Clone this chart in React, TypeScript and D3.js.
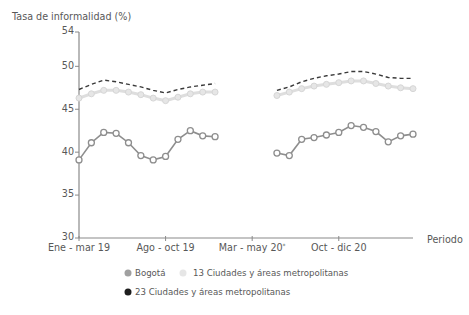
import { line, scaleLinear } from "d3";

const W = 469;
const H = 315;

// rolling quarters, Ene-mar 19 .. Abr-jun 21
const periods = [
  "Ene - mar 19", "Feb - abr 19", "Mar - may 19", "Abr - jun 19", "May - jul 19", "Jun - ago 19",
  "Jul - sep 19", "Ago - oct 19", "Sep - nov 19", "Oct - dic 19", "Nov - ene 20", "Dic - feb 20",
  "Ene - mar 20", "Feb - abr 20", "Mar - may 20*", "Abr - jun 20", "May - jul 20", "Jun - ago 20",
  "Jul - sep 20", "Ago - oct 20", "Sep - nov 20", "Oct - dic 20", "Nov - ene 21", "Dic - feb 21",
  "Ene - mar 21", "Feb - abr 21", "Mar - may 21", "Abr - jun 21",
];
const tickPeriods = ["Ene - mar 19", "Ago - oct 19", "Mar - may 20*", "Oct - dic 20"];
const yTicks = [30, 35, 40, 45, 50, 54];

const bogota = [
  39.1, 41.1, 42.3, 42.2, 41.1, 39.6, 39.1, 39.5, 41.5, 42.5, 41.9, 41.8,
  null, null, null, null,
  39.9, 39.6, 41.5, 41.7, 42.0, 42.3, 43.1, 42.9, 42.4, 41.2, 41.9, 42.1,
];
const ciudades13 = [
  46.3, 46.8, 47.2, 47.2, 47.0, 46.7, 46.3, 46.0, 46.4, 46.8, 47.0, 47.0,
  null, null, null, null,
  46.6, 47.0, 47.4, 47.7, 47.9, 48.1, 48.3, 48.3, 48.0, 47.7, 47.5, 47.4,
];
const ciudades23 = [
  47.3, 47.9, 48.4, 48.2, 47.9, 47.6, 47.2, 46.9, 47.3, 47.6, 47.8, 48.0,
  null, null, null, null,
  47.2, 47.6, 48.2, 48.6, 48.9, 49.1, 49.4, 49.4, 49.1, 48.7, 48.6, 48.6,
];

const FONT = "'DejaVu Sans', 'Open Sans', sans-serif";
const TXT = "#585858";
const AXIS = "#8a8a8a";

type Pt = { i: number; v: number | null };

export default function App() {
  const x = scaleLinear().domain([0, periods.length - 1]).range([79, 413]);
  const y = scaleLinear().domain([30, 54]).range([238, 32]);

  const path = line<Pt>()
    .defined((d) => d.v !== null)
    .x((d) => x(d.i))
    .y((d) => y(d.v as number));

  const pts = (arr: (number | null)[]) => arr.map((v, i) => ({ i, v }));

  return (
    <svg width={W} height={H} style={{ position: "absolute", left: 0, top: 0, background: "#fff" }} fontFamily={FONT}>
      <text x={12} y={17} dy="0.35em" fontSize={9.6} fill={TXT}>Tasa de informalidad (%)</text>

      {/* y axis */}
      <line x1={x(0)} x2={x(0)} y1={y(54)} y2={y(30)} stroke={AXIS} strokeWidth={1.2} />
      {yTicks.map((t) => (
        <g key={t}>
          <line x1={x(0) - 4} x2={x(0)} y1={y(t)} y2={y(t)} stroke={AXIS} />
          <text x={x(0) - 5} y={y(t) - 1} dy="0.35em" textAnchor="end" fontSize={9.6} fill={TXT}>{t}</text>
        </g>
      ))}

      {/* x axis */}
      <line x1={x(0)} x2={x(periods.length - 1)} y1={y(30)} y2={y(30)} stroke={AXIS} strokeWidth={1.2} />
      {tickPeriods.map((p) => {
        const i = periods.indexOf(p);
        return (
          <g key={p}>
            <line x1={x(i)} x2={x(i)} y1={y(30) - 2} y2={y(30) + 3} stroke={AXIS} />
            <text x={x(i)} y={y(30) + 10} dy="0.35em" textAnchor="middle" fontSize={9.6} fill={TXT}>
              {p.endsWith("*") ? <>{p.slice(0, -1)}<tspan fontSize={6} dy={-3}>*</tspan></> : p}
            </text>
          </g>
        );
      })}
      <text x={427} y={y(30) + 2} dy="0.35em" fontSize={9.6} fill={TXT}>Periodo</text>

      {/* 13 ciudades: pale, thick */}
      <path d={path(pts(ciudades13)) ?? undefined} fill="none" stroke="#dedede" strokeWidth={3} />
      {pts(ciudades13).filter((d) => d.v !== null).map((d) => (
        <circle key={d.i} cx={x(d.i)} cy={y(d.v as number)} r={3} fill="#e6e6e6" stroke="#d6d6d6" strokeWidth={1} />
      ))}

      {/* 23 ciudades: dark dashed */}
      <path d={path(pts(ciudades23)) ?? undefined} fill="none" stroke="#3a3a3a" strokeWidth={1.4} strokeDasharray="4,3" />

      {/* Bogotá */}
      <path d={path(pts(bogota)) ?? undefined} fill="none" stroke="#8e8e8e" strokeWidth={1.6} />
      {pts(bogota).filter((d) => d.v !== null).map((d) => (
        <circle key={d.i} cx={x(d.i)} cy={y(d.v as number)} r={3} fill="#fff" stroke="#8e8e8e" strokeWidth={1.3} />
      ))}

      {/* legend */}
      <circle cx={128} cy={273} r={3.5} fill="#a0a0a0" />
      <text x={135} y={273} dy="0.35em" fontSize={8.6} fill={TXT}>Bogotá</text>
      <circle cx={183} cy={273} r={3.5} fill="#e6e6e6" />
      <text x={193} y={273} dy="0.35em" fontSize={8.6} fill={TXT}>13 Ciudades y áreas metropolitanas</text>
      <circle cx={128} cy={292} r={3.5} fill="#1e1e1e" />
      <text x={135} y={292} dy="0.35em" fontSize={8.6} fill={TXT}>23 Ciudades y áreas metropolitanas</text>
    </svg>
  );
}
